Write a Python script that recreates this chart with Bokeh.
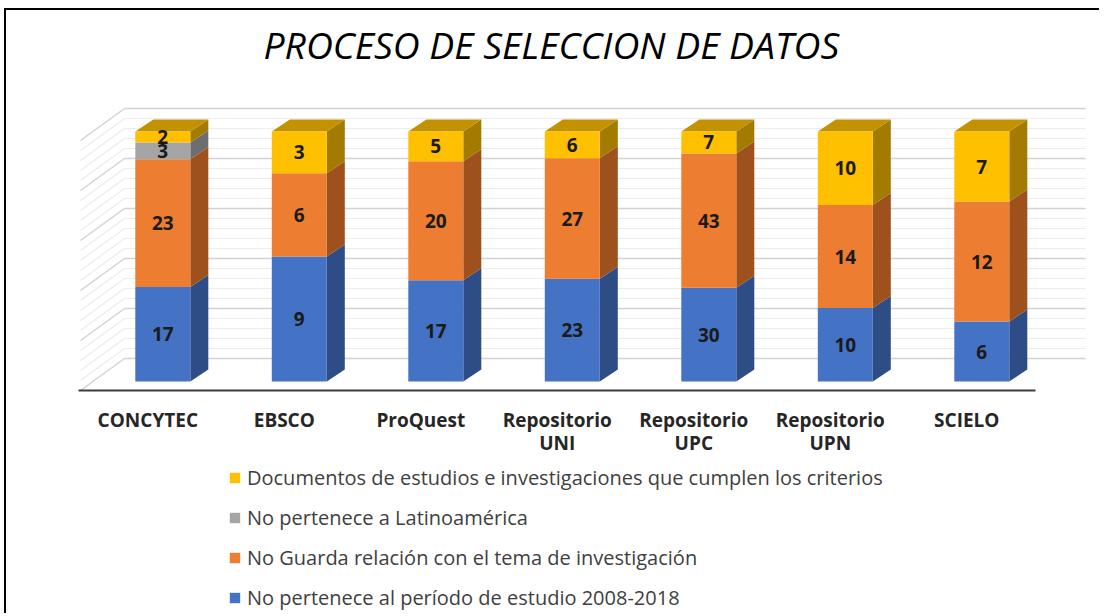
from bokeh.plotting import figure
from bokeh.models import Legend, LegendItem, ColumnDataSource, Range1d
from bokeh.embed import file_html
from bokeh.resources import INLINE
from bokeh.core.properties import value

# ---------------- data ----------------
categories = ["CONCYTEC", "EBSCO", "ProQuest", "Repositorio\nUNI",
              "Repositorio\nUPC", "Repositorio\nUPN", "SCIELO"]
periodo = [17, 9, 17, 23, 30, 10, 6]          # blue
no_guarda = [23, 6, 20, 27, 43, 14, 12]       # orange
no_latam = [3, 0, 0, 0, 0, 0, 0]              # gray
cumplen = [2, 3, 5, 6, 7, 10, 7]              # yellow

series_values = [periodo, no_guarda, no_latam, cumplen]
series_names = [
    "No pertenece al período de estudio 2008-2018",
    "No Guarda relación con el tema de investigación",
    "No pertenece a Latinoamérica",
    "Documentos de estudios e investigaciones que cumplen los criterios",
]
front_colors = ["#4472C4", "#ED7D31", "#A5A5A5", "#FFC000"]
side_colors = ["#2E4D87", "#9E501D", "#6E6E6E", "#A37B00"]
top_colors = ["#3A62A8", "#C86A29", "#8C8C8C", "#C29200"]
grid_values = list(range(0, 101, 4))

# ---------------- geometry (style) ----------------
PX = 1 / 136.5          # x data units per pixel
PY = 0.4                # % per pixel
HALF_W = 27.5 * PX
DEPTH_X = 18 * PX
DEPTH_Y = 12 * PY
WALL_DX0 = -38.3 * PX
WALL_DX1 = 922.7 * PX
WALL_DY = 23 * PY
SIDE_DX = -82.3 * PX
SIDE_DY = 32 * PY
FLOOR_Y = -9 * PY
FLOOR_X0 = -84.3 * PX
FLOOR_X1 = 872.7 * PX
LABEL_Y = -25 * PY

n = len(categories)
xs_pos = list(range(n))
totals = [sum(s[i] for s in series_values) for i in range(n)]

p = figure(width=1095, height=605, output_backend="svg", toolbar_location=None,
           x_axis_location=None, y_axis_location=None,
           x_range=Range1d(-156.3 * PX, 938.7 * PX),
           y_range=Range1d(-93.6, 124.4),
           min_border_left=0, min_border_right=0, min_border_top=60,
           min_border_bottom=0)
p.xgrid.visible = False
p.ygrid.visible = False
p.outline_line_color = None
p.background_fill_color = "white"
p.border_fill_color = "white"
p.styles = {"margin-left": "4px", "margin-top": "8px",
            "border-left": "2px solid #000000", "border-top": "2px solid #000000"}

# ---------------- title ----------------
p.title.text = "PROCESO DE SELECCION DE DATOS"
p.title.text_font = "Open Sans"
p.title.text_font_style = "italic"
p.title.text_font_size = "37.3px"
p.title.text_color = "#000000"
p.title.align = "left"
p.title.offset = 257
p.title.standoff = 2

# ---------------- walls / gridlines ----------------
x0 = xs_pos[0]
for v in grid_values:
    major = (v % 20 == 0)
    col = "#D2D2D2" if major else "#ECECEC"
    lw = 1.5 if major else 1.2
    yb = v + WALL_DY
    p.segment(x0=[x0 + WALL_DX0], y0=[yb], x1=[x0 + WALL_DX1], y1=[yb],
              line_color=col, line_width=lw)
    p.segment(x0=[x0 + WALL_DX0], y0=[yb], x1=[x0 + SIDE_DX], y1=[yb - SIDE_DY],
              line_color=col, line_width=lw)

# floor front edge (category axis line)
p.segment(x0=[x0 + FLOOR_X0], y0=[FLOOR_Y], x1=[x0 + FLOOR_X1], y1=[FLOOR_Y],
          line_color="#3C3C3C", line_width=2)

# ---------------- bars ----------------
front_renderers = []
bottoms = [0.0] * n
lab_x, lab_y, lab_t = [], [], []
for k, vals in enumerate(series_values):
    pct = [vals[i] / totals[i] * 100 for i in range(n)]
    bot = bottoms[:]
    top = [bot[i] + pct[i] for i in range(n)]
    side_xs, side_ys, top_xs, top_ys = [], [], [], []
    for i in range(n):
        if vals[i] <= 0:
            continue
        xr = xs_pos[i] + HALF_W
        side_xs.append([xr, xr + DEPTH_X, xr + DEPTH_X, xr])
        side_ys.append([bot[i], bot[i] + DEPTH_Y, top[i] + DEPTH_Y, top[i]])
        if k == len(series_values) - 1:
            xl = xs_pos[i] - HALF_W
            top_xs.append([xl, xl + DEPTH_X, xr + DEPTH_X, xr])
            top_ys.append([top[i], top[i] + DEPTH_Y, top[i] + DEPTH_Y, top[i]])
        lab_x.append(xs_pos[i])
        lab_y.append((bot[i] + top[i]) / 2)
        lab_t.append(str(vals[i]))
    p.patches(xs=side_xs, ys=side_ys, fill_color=side_colors[k], line_color=None)
    if top_xs:
        p.patches(xs=top_xs, ys=top_ys, fill_color=top_colors[k], line_color=None)
    src = ColumnDataSource(dict(x=xs_pos, bottom=bot, top=top))
    r = p.vbar(x="x", bottom="bottom", top="top", width=2 * HALF_W, source=src,
               fill_color=front_colors[k], line_color=None)
    front_renderers.append(r)
    bottoms = top

p.text(x=lab_x, y=lab_y, text=lab_t, text_font=value("Open Sans"),
       text_font_style="bold", text_font_size="19px", text_color="#1A1A1A",
       text_align="center", text_baseline="middle")

# ---------------- category labels (along the floor edge) ----------------
p.text(x=xs_pos, y=[LABEL_Y] * n, text=categories, x_offset=-15,
       text_font=value("Open Sans"), text_font_style="bold",
       text_font_size="19px", text_color="#262626", text_align="center",
       text_baseline="top", text_line_height=0.92)

# ---------------- legend ----------------
order = [3, 2, 1, 0]
legend = Legend(items=[LegendItem(label=series_names[k], renderers=[front_renderers[k]])
                       for k in order],
                location=(222, 4), orientation="vertical",
                border_line_color=None, background_fill_alpha=0,
                padding=0, margin=0, spacing=13,
                glyph_height=13, glyph_width=13, label_standoff=6,
                label_height=20,
                label_text_font="Open Sans", label_text_font_size="20px",
                label_text_color="#404040")
p.add_layout(legend)

open("out.html", "w").write(file_html(p, INLINE))
